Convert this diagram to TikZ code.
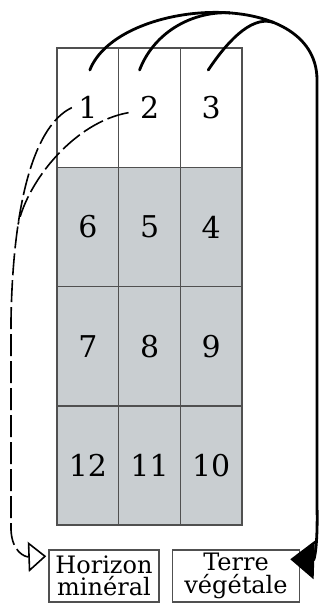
\documentclass[tikz,border=0pt]{standalone}
\usepackage{fontspec}
\setmainfont{DejaVu Serif}
\usetikzlibrary{arrows.meta,positioning}
\definecolor{gridline}{RGB}{80,80,80}
\definecolor{soil}{RGB}{201,206,209}

\begin{document}
\begin{tikzpicture}[
  x=1pt, y=-1pt,
  node distance=0pt,
  cell/.style={draw=gridline, line width=1.5pt, outer sep=0pt, inner sep=0pt, minimum width=61.7pt, minimum height=119.3pt, font=\fontsize{30}{30}\selectfont},
  buried/.style={cell, fill=soil},
  binbox/.style={draw=gridline, line width=1.5pt, inner sep=0pt, minimum height=52pt, align=center, font=\fontsize{24}{22.5}\selectfont},
  carry/.style={line width=2.8pt, line cap=round},
  refill/.style={line width=1.6pt, dash pattern=on 22pt off 5pt}
]
  \useasboundingbox (0,0) rectangle (321,605);
  \node[cell, anchor=north west] (c1) at (57,48) {1};
  \node[cell, right=of c1] (c2) {2};
  \node[cell, right=of c2] (c3) {3};
  \node[buried, below=of c1] (c6) {6};
  \node[buried, right=of c6] (c5) {5};
  \node[buried, right=of c5] (c4) {4};
  \node[buried, below=of c6] (c7) {7};
  \node[buried, right=of c7] (c8) {8};
  \node[buried, right=of c8] (c9) {9};
  \node[buried, below=of c7] (c12) {12};
  \node[buried, right=of c12] (c11) {11};
  \node[buried, right=of c11] (c10) {10};

  \node[binbox, minimum width=110pt] (horizon) at (104,576) {Horizon\\minéral};
  \node[binbox, minimum width=127pt, right=12pt of horizon] (terre) {Terre\\végétale};

  \draw[carry, -{Triangle[length=24pt, width=38pt]}] ([shift={(2pt,-22pt)}]c1.north)
    .. controls (118,-2) and (317,-15) .. coordinate[pos=0.55] (j2) coordinate[pos=0.7] (j3) (317,80)
    -- (317,505) .. controls (318,548) and (314,560) .. ([shift={(-10pt,-10pt)}]terre.north east);
  \draw[carry] ([shift={(-10pt,-22pt)}]c2.north) .. controls (155,30) and (195,11) .. (j2);
  \draw[carry] ([shift={(-3pt,-22pt)}]c3.north) .. controls (225,45) and (250,15) .. (j3);

  \draw[refill, -{Triangle[open, length=18pt, width=30pt]}] ([xshift=-16pt]c1.center)
    .. controls (35,125) and (13,200) .. coordinate[pos=0.7] (k2) (11,320)
    -- (11,530) .. controls (12,552) and (25,557) .. ([shift={(-2pt,-7pt)}]horizon.north west);
  \draw[refill] ([shift={(-21pt,-5pt)}]c2.center) .. controls (75,122) and (28,180) .. (k2);
\end{tikzpicture}
\end{document}
